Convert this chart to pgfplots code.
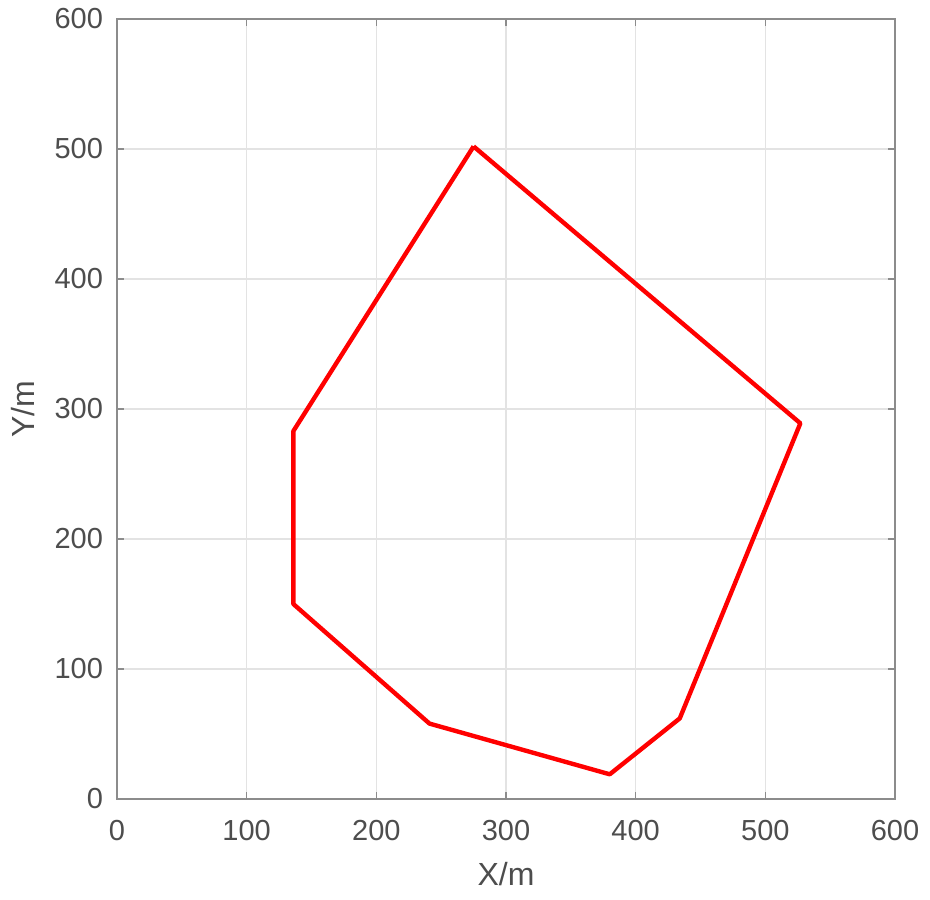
\documentclass[border=0pt]{standalone}
\usepackage{pgfplots}
\pgfplotsset{compat=1.18}
\usepackage{fontspec}
\setmainfont{Liberation Sans}
\definecolor{ticktext}{HTML}{4D4D4D}
\definecolor{boxgray}{HTML}{8C8C8C}
\begin{document}
\begin{tikzpicture}
\begin{axis}[
  name=ax,
  scale only axis,
  width=389pt, height=390pt,
  xmin=0, xmax=600, ymin=0, ymax=600,
  xtick={0,100,...,600}, ytick={0,100,...,600},
  xmajorgrids, ymajorgrids,
  grid style={gray!22, line width=0.8pt},
  axis line style={boxgray, line width=1.2pt},
  tick style={boxgray, line width=0.8pt},
  tick align=inside,
  major tick length=3.5pt,
  ticklabel style={font=\fontsize{14.5}{16}\selectfont, text=ticktext},
  xticklabel style={yshift=-7pt},
  yticklabel style={xshift=-3.5pt},
  /pgf/number format/assume math mode=true,
  xlabel={X/m}, ylabel={Y/m},
  label style={font=\fontsize{16}{18}\selectfont, text=ticktext},
  xlabel style={at={([yshift=-43pt]axis description cs:0.5,0)}, anchor=base},
  ylabel style={at={([xshift=-41pt]axis description cs:0,0.5)}, anchor=base, rotate=0},
]
\addplot[red, line width=2.2pt, line join=round, mark=none] coordinates {
  (275,502) (527,289) (434,62) (380,19) (241,58) (136,150) (136,283) (275,502)
};
\end{axis}
\pgfresetboundingbox
\path ([shift={(-58.5pt,-50pt)}]ax.south west) rectangle ([shift={(17.5pt,9.5pt)}]ax.north east);
\end{tikzpicture}
\end{document}
